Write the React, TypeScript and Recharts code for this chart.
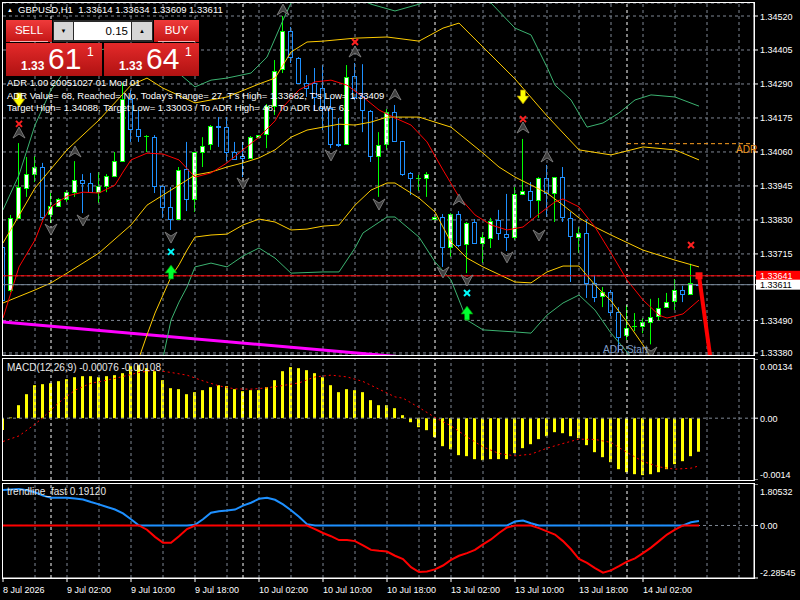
import React from 'react';
import {
  Bar,
  CartesianGrid,
  ComposedChart,
  Line,
  ReferenceLine,
  Scatter,
  XAxis,
  YAxis,
} from 'recharts';

const FONT = "'Liberation Sans', Arial, sans-serif";
const GRID = '#7f8794';

// GBPUSD H1, one entry per bar, 8 Jul 18:00 .. 14 Jul 09:00
const OPEN = [
  1.33738, 1.33593, 1.33837, 1.33938, 1.33985, 1.34009, 1.3385, 1.33877, 1.33901, 1.33924,
  1.33965, 1.33955, 1.33924, 1.33945, 1.33979, 1.34029, 1.34239, 1.34138, 1.34114, 1.3411,
  1.33945, 1.33874, 1.33833, 1.34002, 1.33901, 1.3406, 1.34087, 1.34148, 1.34144, 1.3406,
  1.34046, 1.3404, 1.3411, 1.34121, 1.34215, 1.34341, 1.34469, 1.34378, 1.34293, 1.34293,
  1.34276, 1.34209, 1.34087, 1.34087, 1.34317, 1.34249, 1.34198, 1.34046, 1.34087, 1.34195,
  1.34097, 1.33989, 1.33972, 1.33972, 1.33833, 1.3384, 1.33738, 1.3385, 1.33749, 1.33823,
  1.33752, 1.33769, 1.3383, 1.33782, 1.33772, 1.33918, 1.33928, 1.33897, 1.33972, 1.33921,
  1.33975, 1.33837, 1.33772, 1.33786, 1.33617, 1.33573, 1.33586, 1.33519, 1.33441, 1.33471,
  1.33471, 1.33485, 1.33505, 1.33535, 1.33556, 1.33593, 1.33579, 1.33614,
];
const HIGH = [
  1.33762, 1.33847, 1.3409, 1.34043, 1.34046, 1.34023, 1.33921, 1.33904, 1.33931, 1.34029,
  1.33985, 1.33989, 1.33992, 1.33985, 1.3406, 1.34293, 1.3427, 1.34202, 1.34117, 1.34117,
  1.33948, 1.33941, 1.34009, 1.34094, 1.3406, 1.3411, 1.34151, 1.34178, 1.34178, 1.34094,
  1.34094, 1.34114, 1.34117, 1.34222, 1.34371, 1.3452, 1.34483, 1.34381, 1.3432, 1.34344,
  1.34354, 1.34246, 1.34175, 1.34354, 1.34361, 1.34357, 1.34202, 1.34127, 1.34205, 1.34219,
  1.34097, 1.33992, 1.33982, 1.33992, 1.3384, 1.3385, 1.33853, 1.3386, 1.33823, 1.33833,
  1.33789, 1.33837, 1.33864, 1.33918, 1.33941, 1.34104, 1.33958, 1.33975, 1.34016, 1.33975,
  1.34009, 1.33857, 1.33806, 1.3383, 1.33644, 1.33603, 1.33593, 1.33535, 1.33542, 1.33515,
  1.33498, 1.33563, 1.33566, 1.33583, 1.3363, 1.33607, 1.33682, 1.33634,
];
const LOW = [
  1.33542, 1.33586, 1.33833, 1.33908, 1.33958, 1.3383, 1.3382, 1.33874, 1.33891, 1.33908,
  1.33853, 1.33921, 1.33887, 1.33924, 1.33975, 1.34029, 1.34094, 1.34094, 1.3406, 1.33921,
  1.33837, 1.33796, 1.33833, 1.3386, 1.33857, 1.34009, 1.34067, 1.34077, 1.34029, 1.34033,
  1.33975, 1.3404, 1.3411, 1.34073, 1.34185, 1.34327, 1.34361, 1.34293, 1.34246, 1.34202,
  1.34134, 1.34073, 1.34077, 1.34087, 1.34236, 1.34127, 1.34026, 1.33908, 1.34067, 1.34094,
  1.33979, 1.33914, 1.33928, 1.33908, 1.33833, 1.33671, 1.33705, 1.33738, 1.3365, 1.33749,
  1.33684, 1.33735, 1.33762, 1.33725, 1.33762, 1.33914, 1.33837, 1.33837, 1.3384, 1.33823,
  1.33823, 1.3362, 1.33718, 1.33566, 1.33552, 1.33535, 1.33505, 1.33383, 1.33424, 1.33454,
  1.33447, 1.33409, 1.33491, 1.33532, 1.33525, 1.33552, 1.33576, 1.33609,
];
const CLOSE = [
  1.33559, 1.33837, 1.33941, 1.33985, 1.34009, 1.3384, 1.33877, 1.33901, 1.33924, 1.33965,
  1.33955, 1.33924, 1.33945, 1.33979, 1.34029, 1.34239, 1.34138, 1.34114, 1.34114, 1.33945,
  1.33874, 1.33833, 1.33999, 1.33901, 1.3406, 1.3408, 1.34148, 1.34144, 1.3406, 1.34036,
  1.3404, 1.3411, 1.34117, 1.34215, 1.34334, 1.34469, 1.34381, 1.34293, 1.34276, 1.34246,
  1.34209, 1.34087, 1.34083, 1.34313, 1.34246, 1.34202, 1.34046, 1.34083, 1.34195, 1.34097,
  1.33985, 1.33972, 1.33972, 1.33985, 1.3384, 1.33738, 1.3385, 1.33745, 1.3382, 1.33752,
  1.33772, 1.33826, 1.33786, 1.33772, 1.33918, 1.33928, 1.33897, 1.33972, 1.33921, 1.33975,
  1.3384, 1.33776, 1.33786, 1.33617, 1.33569, 1.33586, 1.33519, 1.33434, 1.33464, 1.33471,
  1.33485, 1.33502, 1.33532, 1.33552, 1.33593, 1.33579, 1.33617, 1.33611,
];

// indicator lines, [bar, price]
const BB_UPPER = [
  [0, 1.33752], [4, 1.33938], [8, 1.34067], [12, 1.34168], [16, 1.34286], [18, 1.3431], [20, 1.34276],
  [24, 1.34226], [28, 1.34246], [32, 1.3429], [34, 1.3431], [36, 1.34398], [38, 1.34432], [40, 1.34435],
  [44, 1.34445], [48, 1.34449], [52, 1.34435], [55, 1.34479], [57, 1.34496], [60, 1.34415], [64, 1.34307],
  [68, 1.34182], [72, 1.34067], [76, 1.3405], [80, 1.34077], [84, 1.34067], [87, 1.34033],
];
const BB_MID = [
  [0, 1.33549], [4, 1.33593], [6, 1.33617], [8, 1.3365], [12, 1.33718], [16, 1.33813], [18, 1.3388],
  [20, 1.33914], [22, 1.33948], [24, 1.33982], [26, 1.33992], [28, 1.34009], [30, 1.34023], [32, 1.3404],
  [34, 1.34067], [36, 1.3411], [38, 1.34134], [42, 1.34154], [44, 1.34151], [46, 1.34161], [48, 1.34178],
  [52, 1.34178], [56, 1.34144], [58, 1.341], [60, 1.34056], [62, 1.34009], [64, 1.33975], [66, 1.33948],
  [68, 1.33921], [70, 1.3388], [72, 1.33837], [74, 1.33806], [76, 1.33779], [80, 1.33728], [84, 1.33694],
  [87, 1.33671],
];
const BB_LOWER = [
  [16, 1.33305], [17, 1.33363], [18, 1.33441], [19, 1.33515], [20, 1.33576], [21, 1.33637], [22, 1.33678],
  [23, 1.33728], [24, 1.33772], [26, 1.33779], [28, 1.33782], [30, 1.33813], [32, 1.33833], [34, 1.33823],
  [36, 1.33796], [38, 1.33799], [40, 1.33809], [42, 1.33813], [44, 1.3388], [46, 1.33931], [48, 1.33955],
  [49, 1.33955], [52, 1.33904], [54, 1.33857], [56, 1.33755], [58, 1.33701], [60, 1.33671], [64, 1.3362],
  [66, 1.33617], [68, 1.33654], [70, 1.33674], [72, 1.33674], [74, 1.3361], [76, 1.33556], [78, 1.33485],
  [80, 1.33407], [81, 1.33363], [82, 1.33322],
];
const OUTER_UPPER = [
  [0, 1.33864], [2, 1.33982], [4, 1.34151], [6, 1.3427], [8, 1.34344], [12, 1.34405], [16, 1.34422],
  [20, 1.34371], [24, 1.3428], [26, 1.34303], [28, 1.3431], [31, 1.34327], [33, 1.34381], [35, 1.34506],
  [36, 1.34564], [38, 1.34608], [42, 1.34608], [46, 1.3456], [49, 1.34537], [52, 1.3456], [55, 1.34601],
  [59, 1.34591], [61, 1.34564], [64, 1.34479], [66, 1.34456], [68, 1.34347], [69, 1.34286], [71, 1.34236],
  [73, 1.34144], [75, 1.34158], [77, 1.34192], [79, 1.34236], [81, 1.34253], [84, 1.34246], [87, 1.34215],
];
const OUTER_LOWER = [
  [19, 1.33255], [20, 1.33363], [21, 1.33491], [22, 1.33552], [23, 1.33603], [24, 1.33671], [26, 1.33684],
  [28, 1.33671], [30, 1.33708], [32, 1.33735], [34, 1.33701], [36, 1.3365], [40, 1.33654], [42, 1.33654],
  [44, 1.33735], [45, 1.33786], [48, 1.3384], [49, 1.3384], [52, 1.33772], [54, 1.33688], [56, 1.33627],
  [58, 1.33491], [60, 1.33458], [64, 1.33451], [66, 1.33447], [68, 1.33508], [70, 1.33549], [72, 1.33576],
  [74, 1.33525], [76, 1.33447], [78, 1.33383], [79, 1.33349],
];
const FAST_MA = [
  [0, 1.33498], [2, 1.33671], [4, 1.33762], [5, 1.3383], [6, 1.33874], [8, 1.33911], [10, 1.33924],
  [12, 1.33921], [14, 1.33948], [15, 1.33992], [16, 1.34033], [18, 1.34056], [20, 1.34053], [22, 1.34033],
  [24, 1.33975], [26, 1.33989], [28, 1.34023], [30, 1.34067], [32, 1.3411], [34, 1.34165], [35, 1.34212],
  [37, 1.3427], [39, 1.34297], [41, 1.34303], [43, 1.34286], [45, 1.34246], [47, 1.34202], [49, 1.34175],
  [51, 1.34151], [53, 1.34094], [55, 1.33999], [57, 1.33908], [59, 1.33847], [61, 1.33813], [63, 1.33796],
  [65, 1.33806], [67, 1.3385], [69, 1.33891], [70, 1.33901], [72, 1.33874], [74, 1.33806], [76, 1.33718],
  [78, 1.33627], [80, 1.33559], [82, 1.33508], [83, 1.33498], [85, 1.33512], [87, 1.33559],
];

// chart objects
const MAGENTA_TREND = [[0, 1.33485], [58, 1.33347]];
const PROJECTION = [[87, 1.33641], [89, 1.33251]];
const ADR_HIGH = [[78, 1.34088], [93.875, 1.34088]];
const ASK = 1.33641;
const BID = 1.33611;

// signal markers, [bar, price]
const SELL_ARROWS = [[2, 1.34236], [65, 1.34246]];
const BUY_ARROWS = [[21, 1.33654], [58, 1.33515]];
const RED_CROSSES = [[2, 1.34155], [44, 1.34432], [65, 1.34171], [86, 1.33745]];
const CYAN_CROSSES = [[21, 1.33722], [58, 1.33583]];
const FRACTAL_UP = [
  [2, 1.34124], [9, 1.3406], [35, 1.3454], [44, 1.34398], [49, 1.34253], [57, 1.33897], [65, 1.34141], [68, 1.34043],
];
const FRACTAL_DOWN = [
  [6, 1.33799], [10, 1.3383], [21, 1.33772], [30, 1.33955], [41, 1.3405], [47, 1.33884], [55, 1.33654],
  [58, 1.33627], [63, 1.33705], [67, 1.33779], [81, 1.33383],
];
const LAST_MARK = [[87, 1.33641]];

// MACD(12,26,9)
const MACD_HIST = [
  -0.000265, 0.000015, 0.000294, 0.000543, 0.000747, 0.00077, 0.000792, 0.000838, 0.000883, 0.000928,
  0.000951, 0.000951, 0.000928, 0.000951, 0.000974, 0.001019, 0.001177, 0.0012, 0.001132, 0.001064,
  0.00086, 0.000679, 0.000657, 0.000543, 0.000589, 0.000634, 0.000702, 0.000747, 0.000724, 0.000657,
  0.000611, 0.000634, 0.000634, 0.000702, 0.00086, 0.001064, 0.001155, 0.001132, 0.001087, 0.001019,
  0.000928, 0.000747, 0.000589, 0.000657, 0.000634, 0.000589, 0.000408, 0.000294, 0.000294, 0.000226,
  0.000068, -0.000091, -0.000204, -0.000272, -0.00043, -0.000634, -0.000702, -0.000838, -0.00086, -0.000928,
  -0.000951, -0.000928, -0.000928, -0.000928, -0.000792, -0.000679, -0.000589, -0.000475, -0.000408, -0.000317,
  -0.00034, -0.000408, -0.000453, -0.000611, -0.00077, -0.000883, -0.000996, -0.001155, -0.001223, -0.001268,
  -0.00129, -0.001268, -0.001223, -0.001155, -0.001041, -0.000974, -0.00086, -0.00076,
];
const MACD_SIGNAL = [
  [0, -0.000528], [2, -0.000401], [4, -0.000136], [5, 0.000016], [7, 0.000355], [9, 0.000634], [11, 0.000792],
  [13, 0.00086], [15, 0.000944], [17, 0.001035], [19, 0.001087], [21, 0.001035], [23, 0.000974], [25, 0.000845],
  [27, 0.000731], [29, 0.000663], [31, 0.000657], [33, 0.000686], [35, 0.00074], [37, 0.000799], [39, 0.000935],
  [41, 0.000974], [43, 0.000935], [45, 0.000831], [47, 0.000657], [49, 0.000482], [50, 0.000453], [52, 0.000242],
  [54, 0.000016], [56, -0.000174], [58, -0.000423], [60, -0.00065], [62, -0.000799], [64, -0.000854],
  [66, -0.000815], [68, -0.000679], [70, -0.000573], [72, -0.000475], [74, -0.000482], [76, -0.00055],
  [78, -0.000777], [80, -0.00098], [82, -0.001103], [84, -0.001155], [86, -0.001132], [87, -0.00108],
];

// trendline_fast
const TREND = [
  1.54, 1.57, 1.585, 1.53, 1.444, 1.3, 1.203, 1.203, 1.203, 1.175, 1.133, 1.02, 0.92, 0.807, 0.694, 0.524, 0.269, 0, -0.184, -0.495,
  -0.75, -0.75, -0.467, -0.156, 0.028, 0.269, 0.552, 0.623, 0.651, 0.694, 0.864, 0.991, 1.161, 1.203, 1.118, 0.92, 0.665, 0.382, 0.057, -0.156,
  -0.326, -0.467, -0.637, -0.637, -0.68, -0.864, -1.062, -1.104, -1.133, -1.317, -1.459, -1.812, -2.025, -2.0, -1.91, -1.742, -1.501, -1.317, -1.203, -1.062,
  -0.821, -0.609, -0.326, -0.085, 0.17, 0.212, 0.099, -0.113, -0.255, -0.396, -0.68, -1.034, -1.459, -1.629, -1.855, -2.053, -1.954, -1.77, -1.572, -1.43,
  -1.203, -0.963, -0.68, -0.396, -0.184, 0, 0.142, 0.1912,
];

// axes
const X_DOMAIN = [0, 93.875];
const PRICE_DOMAIN = [1.33373, 1.34564];
const PRICE_TICKS = [1.3452, 1.34405, 1.3429, 1.34175, 1.3406, 1.33945, 1.3383, 1.33715, ASK, BID, 1.3349, 1.3338];
const MACD_DOMAIN = [-0.0014, 0.00134];
const MACD_TICKS = [0.00134, 0, -0.0014];
const MACD_LABELS = ['0.00134', '0.00', '-0.0014'];
const TREND_DOMAIN = [-2.28545, 1.80532];
const TREND_TICKS = [1.80532, 0, -2.28545];
const TREND_LABELS = ['1.80532', '0.00', '-2.28545'];
const TIME_TICKS = [0, 8, 16, 24, 32, 40, 48, 56, 64, 72, 80];
const TIME_LABELS = [
  '8 Jul 2026', '9 Jul 02:00', '9 Jul 10:00', '9 Jul 18:00', '10 Jul 02:00', '10 Jul 10:00',
  '10 Jul 18:00', '13 Jul 02:00', '13 Jul 10:00', '13 Jul 18:00', '14 Jul 02:00',
];
const GRID_BARS = [4, 8, 12, 16, 20, 24, 28, 32, 36, 40, 44, 48, 52, 56, 60, 64, 68, 72, 76, 80, 84, 88, 92];
const DAY_BREAKS = [6, 30, 54, 78];

const rows: any[] = OPEN.map((open, i) => ({
  i,
  open,
  high: HIGH[i],
  low: LOW[i],
  close: CLOSE[i],
  hist: MACD_HIST[i],
  trUp: Math.max(TREND[i], 0),
  trDn: Math.min(TREND[i], 0),
}));
const addLine = (key: string, pts: number[][]) => pts.forEach(([i, v]) => { rows[i][key] = v; });
addLine('bbU', BB_UPPER);
addLine('bbM', BB_MID);
addLine('bbL', BB_LOWER);
addLine('ouU', OUTER_UPPER);
addLine('ouL', OUTER_LOWER);
addLine('ma', FAST_MA);
addLine('sig', MACD_SIGNAL);

const pts = (a: number[][]) => a.map(([i, p]) => ({ i, p }));
const seg = (a: number[][]) => a.map(([x, y]) => ({ x, y }));

function Candle(props: any) {
  const { x, y, width, height, payload } = props;
  const { open, close, high, low } = payload;
  const top = Math.min(y, y + height);
  const h = Math.abs(height);
  const span = high - low;
  const py = (v: number) => (span === 0 ? top : top + ((high - v) / span) * h);
  const cx = Math.floor(x + width / 2) + 0.5;
  const bull = close >= open;
  const col = bull ? '#00ff00' : '#1e90ff';
  const bt = Math.round(Math.min(py(open), py(close)));
  const bb = Math.round(Math.max(py(open), py(close)));
  return (
    <g>
      <line x1={cx} x2={cx} y1={top} y2={top + h} stroke={col} />
      {bb - bt < 1 ? (
        <line x1={cx - 2.5} x2={cx + 2.5} y1={bt + 0.5} y2={bt + 0.5} stroke={col} />
      ) : (
        <rect x={cx - 2} y={bt + 0.5} width={4} height={bb - bt} fill={bull ? '#fff' : '#000'} stroke={col} />
      )}
    </g>
  );
}

const SellArrow = ({ cx, cy }: any) => (
  <polygon
    points={`${cx - 2.5},${cy - 7} ${cx + 2.5},${cy - 7} ${cx + 2.5},${cy - 1} ${cx + 6},${cy - 1} ${cx},${cy + 7} ${cx - 6},${cy - 1} ${cx - 2.5},${cy - 1}`}
    fill="#ffff00"
    stroke="#a08000"
    strokeWidth={0.7}
  />
);
const BuyArrow = ({ cx, cy }: any) => (
  <polygon
    points={`${cx - 2.5},${cy + 7} ${cx + 2.5},${cy + 7} ${cx + 2.5},${cy + 1} ${cx + 6},${cy + 1} ${cx},${cy - 7} ${cx - 6},${cy + 1} ${cx - 2.5},${cy + 1}`}
    fill="#00ff30"
    stroke="#008000"
    strokeWidth={0.7}
  />
);
const cross = (color: string) => ({ cx, cy }: any) => (
  <g stroke={color} strokeWidth={2}>
    <line x1={cx - 3} y1={cy - 3} x2={cx + 3} y2={cy + 3} />
    <line x1={cx - 3} y1={cy + 3} x2={cx + 3} y2={cy - 3} />
  </g>
);
const FractalUp = ({ cx, cy }: any) => (
  <polygon
    points={`${cx},${cy - 6} ${cx + 6},${cy + 5} ${cx},${cy + 1} ${cx - 6},${cy + 5}`}
    fill="#404040"
    stroke="#8c8c8c"
    strokeWidth={0.8}
  />
);
const FractalDown = ({ cx, cy }: any) => (
  <polygon
    points={`${cx},${cy + 6} ${cx + 6},${cy - 5} ${cx},${cy - 1} ${cx - 6},${cy - 5}`}
    fill="#404040"
    stroke="#8c8c8c"
    strokeWidth={0.8}
  />
);
const LastMark = ({ cx, cy }: any) => <rect x={cx - 3.5} y={cy - 3.5} width={7} height={7} fill="#ff1010" />;

function PriceTick(props: any) {
  const { x, y, payload } = props;
  const v = payload.value;
  const label = v.toFixed(5);
  if (v === ASK || v === BID) {
    const ask = v === ASK;
    return (
      <g>
        <rect x={x - 4} y={y - 5} width={44} height={10} fill={ask ? '#ff0000' : '#ffffff'} />
        <text x={x} y={y + 3.5} fill={ask ? '#fff' : '#000'} fontSize={9}>{label}</text>
      </g>
    );
  }
  return <text x={x} y={y + 3.5} fill="#fff" fontSize={9}>{label}</text>;
}

const edgeTick = (ticks: number[], labels: string[], domain: number[]) => (props: any) => {
  const { x, y, payload } = props;
  const v = payload.value;
  const dy = v === domain[1] ? 7 : v === domain[0] ? -6 : 0;
  return (
    <text x={x} y={y + dy + 3.5} fill="#fff" fontSize={9}>
      {labels[ticks.indexOf(v)]}
    </text>
  );
};

function TimeTick(props: any) {
  const { x, y, payload } = props;
  return (
    <text x={x} y={y + 9} fill="#fff" fontSize={9}>
      {TIME_LABELS[TIME_TICKS.indexOf(payload.value)]}
    </text>
  );
}

const verticalGrid = () => [
  ...GRID_BARS.map(b => <ReferenceLine key={'g' + b} x={b} stroke={GRID} strokeDasharray="3 3" />),
  ...DAY_BREAKS.map(b => <ReferenceLine key={'d' + b} x={b} stroke="#ffffff" strokeDasharray="3 3" />),
];

const yAxisStyle = {
  orientation: 'right' as const,
  width: 46,
  allowDataOverflow: true,
  interval: 0 as const,
  axisLine: { stroke: '#fff' },
  tickLine: { stroke: '#fff' },
  tickSize: 4,
};

const lineProps = { dot: false, connectNulls: true, isAnimationActive: false, strokeWidth: 1, type: 'linear' as const };

function MainChart() {
  return (
    <ComposedChart width={800} height={362} data={rows} margin={{ top: 3, right: 0, bottom: 7, left: 3 }}>
      <CartesianGrid vertical={false} stroke={GRID} strokeDasharray="3 3" />
      {verticalGrid()}
      <XAxis hide type="number" dataKey="i" domain={X_DOMAIN} allowDataOverflow />
      <YAxis {...yAxisStyle} domain={PRICE_DOMAIN} ticks={PRICE_TICKS} tick={PriceTick} />
      <ReferenceLine segment={seg(MAGENTA_TREND)} stroke="#ff00ff" strokeWidth={3} ifOverflow="hidden" />
      <Bar dataKey={(d: any) => [d.low, d.high]} barSize={5} shape={Candle} isAnimationActive={false} />
      <Line dataKey="ouU" stroke="#3cb371" {...lineProps} />
      <Line dataKey="ouL" stroke="#3cb371" {...lineProps} />
      <Line dataKey="bbU" stroke="#ffcc00" {...lineProps} />
      <Line dataKey="bbM" stroke="#ffcc00" {...lineProps} />
      <Line dataKey="bbL" stroke="#ffcc00" {...lineProps} />
      <Line dataKey="ma" stroke="#ff0000" {...lineProps} />
      <ReferenceLine segment={seg(ADR_HIGH)} stroke="#ffa020" strokeDasharray="4 3" ifOverflow="hidden" />
      <ReferenceLine y={ASK} stroke="#ff0000" />
      <ReferenceLine y={BID} stroke="#778899" />
      <ReferenceLine segment={seg(PROJECTION)} stroke="#ff0000" strokeWidth={4} ifOverflow="hidden" />
      <Scatter data={pts(FRACTAL_UP)} dataKey="p" shape={FractalUp} isAnimationActive={false} />
      <Scatter data={pts(FRACTAL_DOWN)} dataKey="p" shape={FractalDown} isAnimationActive={false} />
      <Scatter data={pts(SELL_ARROWS)} dataKey="p" shape={SellArrow} isAnimationActive={false} />
      <Scatter data={pts(BUY_ARROWS)} dataKey="p" shape={BuyArrow} isAnimationActive={false} />
      <Scatter data={pts(RED_CROSSES)} dataKey="p" shape={cross('#ff2020')} isAnimationActive={false} />
      <Scatter data={pts(CYAN_CROSSES)} dataKey="p" shape={cross('#00ffff')} isAnimationActive={false} />
      <Scatter data={pts(LAST_MARK)} dataKey="p" shape={LastMark} isAnimationActive={false} />
    </ComposedChart>
  );
}

function MacdChart() {
  return (
    <ComposedChart width={800} height={121} data={rows} margin={{ top: 0, right: 0, bottom: 0, left: 3 }}>
      {verticalGrid()}
      <XAxis hide type="number" dataKey="i" domain={X_DOMAIN} allowDataOverflow />
      <YAxis {...yAxisStyle} domain={MACD_DOMAIN} ticks={MACD_TICKS} tick={edgeTick(MACD_TICKS, MACD_LABELS, MACD_DOMAIN)} />
      <ReferenceLine y={0} stroke={GRID} strokeDasharray="3 3" />
      <Bar dataKey="hist" fill="#ffff00" barSize={3} isAnimationActive={false} />
      <Line dataKey="sig" stroke="#ff0000" strokeDasharray="2 3" {...lineProps} />
    </ComposedChart>
  );
}

function TrendChart() {
  return (
    <ComposedChart width={800} height={116} data={rows} margin={{ top: 0, right: 0, bottom: 0, left: 3 }}>
      {verticalGrid()}
      <XAxis
        type="number"
        dataKey="i"
        domain={X_DOMAIN}
        allowDataOverflow
        ticks={TIME_TICKS}
        interval={0}
        height={22}
        axisLine={{ stroke: '#fff' }}
        tickLine={{ stroke: '#fff' }}
        tickSize={4}
        tick={TimeTick}
      />
      <YAxis {...yAxisStyle} domain={TREND_DOMAIN} ticks={TREND_TICKS} tick={edgeTick(TREND_TICKS, TREND_LABELS, TREND_DOMAIN)} />
      <ReferenceLine y={0} stroke={GRID} strokeDasharray="3 3" />
      <Line dataKey="trUp" stroke="#1e90ff" {...lineProps} strokeWidth={2} />
      <Line dataKey="trDn" stroke="#ff0000" {...lineProps} strokeWidth={2} />
    </ComposedChart>
  );
}

const abs = (left: number, top: number, extra: React.CSSProperties = {}): React.CSSProperties => ({
  position: 'absolute',
  left,
  top,
  ...extra,
});

const frame = (top: number, height: number) => (
  <div
    style={abs(2, top, {
      width: 753,
      height,
      border: '1px solid #fff',
      boxSizing: 'border-box',
      pointerEvents: 'none',
    })}
  />
);

const label = (text: string, left: number, cy: number, size = 9.5, color = '#fff') => (
  <div style={abs(left, cy - 7, { fontSize: size, lineHeight: '14px', color, whiteSpace: 'pre' })}>{text}</div>
);

const redBox = 'linear-gradient(#ef3b3b, #c41616)';

function TradePanel() {
  return (
    <>
      <div style={abs(6, 20, { width: 46, height: 22, background: redBox, color: '#fff', fontSize: 11.5, lineHeight: '21px', textAlign: 'center' })}>
        SELL
      </div>
      <div style={abs(10, 41, { width: 38, height: 1, background: '#f4b0b0' })} />
      <div style={abs(53, 20, { width: 100, height: 22, background: '#2a2a2a' })} />
      <div style={abs(54, 22, { width: 19, height: 18, background: '#d6d6d6', fontSize: 6, lineHeight: '18px', textAlign: 'center', color: '#000' })}>▼</div>
      <div style={abs(74, 22, { width: 57, height: 18, background: '#fff', fontSize: 11.5, lineHeight: '18px', textAlign: 'right', color: '#000', paddingRight: 3, boxSizing: 'border-box' })}>
        0.15
      </div>
      <div style={abs(132, 22, { width: 20, height: 18, background: '#d6d6d6', fontSize: 6, lineHeight: '18px', textAlign: 'center', color: '#000' })}>▲</div>
      <div style={abs(154, 20, { width: 45, height: 22, background: redBox, color: '#fff', fontSize: 11.5, lineHeight: '21px', textAlign: 'center' })}>
        BUY
      </div>
      <div style={abs(158, 41, { width: 37, height: 1, background: '#f4b0b0' })} />
      {[{ left: 6, w: 96, big: '61' }, { left: 104, w: 95, big: '64' }].map(b => (
        <div key={b.big} style={abs(b.left, 43, { width: b.w, height: 33, background: 'linear-gradient(#e42a2a, #b01212)', color: '#fff' })}>
          <div style={abs(15, 16, { fontSize: 12, fontWeight: 'bold', lineHeight: '14px' })}>1.33</div>
          <div style={abs(42, -1, { fontSize: 30, lineHeight: '34px' })}>{b.big}</div>
          <div style={abs(81, 2, { fontSize: 12, lineHeight: '14px' })}>1</div>
        </div>
      ))}
    </>
  );
}

export default function App() {
  return (
    <div style={{ position: 'absolute', left: 0, top: 0, width: 800, height: 600, background: '#000', overflow: 'hidden', fontFamily: FONT }}>
      <div style={abs(0, 0)}>
        <MainChart />
      </div>
      <div style={abs(0, 359)}>
        <MacdChart />
      </div>
      <div style={abs(0, 484)}>
        <TrendChart />
      </div>
      {frame(2, 354)}
      {frame(358, 123)}
      {frame(483, 96)}
      <div style={abs(7, 5, { fontSize: 6, lineHeight: '10px', color: '#fff' })}>▲</div>
      {label('GBPUSD,H1  1.33614 1.33634 1.33609 1.33611', 18, 10)}
      <TradePanel />
      {label('ADR 1.00 20051027 01 Mod 01', 7, 83)}
      {label("ADR Value= 68, Reached= No, Today's Range= 27, T's High= 1.33682, T's Low= 1.33409", 7, 96)}
      {label('Target High= 1.34088, Target Low= 1.33003 / To ADR High= 48, To ADR Low= 61', 7, 108)}
      {label('ADR', 736, 150, 10, '#f0961e')}
      {label('ADR Start', 603, 350, 10, '#7f9cc4')}
      {label('MACD(12,26,9) -0.00076 -0.00108', 7, 368, 10, '#e8e8e8')}
      {label('trendline_fast 0.19120', 7, 492, 10, '#e8e8e8')}
    </div>
  );
}
